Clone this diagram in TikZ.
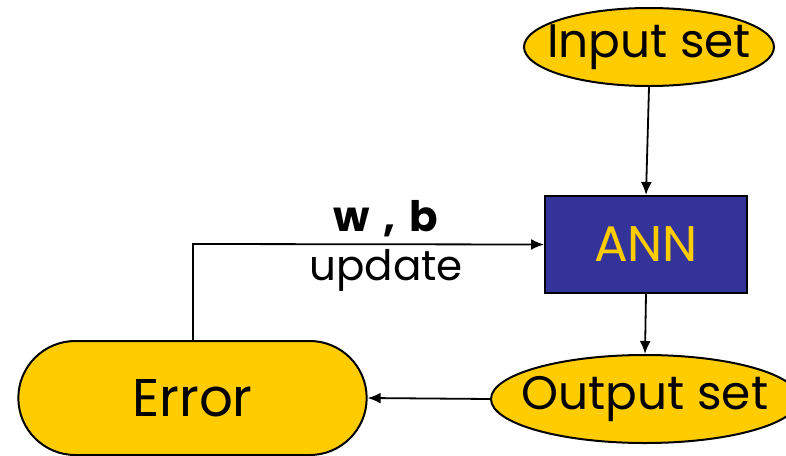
\documentclass[tikz,border=0pt]{standalone}
\usepackage{fontspec}
\setmainfont{Poppins}
\usetikzlibrary{shapes.geometric,shapes.misc,arrows.meta}
\definecolor{gold}{HTML}{FFCC00}
\definecolor{annblue}{HTML}{333399}
\tikzset{
  oval/.style={ellipse, draw=black, line width=2pt, fill=gold, inner sep=0pt, font=\fontsize{47}{50}\selectfont},
  conn/.style={line width=1.8pt, -{Latex[length=13pt,width=11pt]}},
}
\begin{document}
\begin{tikzpicture}[x=1pt,y=-1pt]
\useasboundingbox (0,0) rectangle (786,455);
\clip (0,0) rectangle (786,455);
\node[oval, minimum width=250pt, minimum height=78pt] (in) at (649,47) {\makebox[0pt]{Input set}};
\node[draw=black, line width=2pt, fill=annblue, text=gold, minimum width=202pt, minimum height=97pt, font=\fontsize{50}{54}\selectfont] (ann) at (646,244.5) {ANN};
\node[oval, minimum width=308pt, minimum height=88pt] (out) at (645,399) {\makebox[0pt]{Output set}};
\node[rounded rectangle, draw=black, line width=2pt, fill=gold, minimum width=355pt, minimum height=114pt, font=\fontsize{53}{56}\selectfont] (err) at (192.5,398) {Error};
\coordinate (c) at (193,244);
\draw[conn] (in.south) -- (ann.north);
\draw[conn] (ann.south) -- (out.north);
\draw[conn] (out.west) -- (err.east);
\draw[conn] (err.north -| c) -- (c) -- (ann.west) node[pos=0.55, above=3pt, font=\fontsize{42}{46}\selectfont\bfseries] (wb) {w\,\,,\,\,b} node[pos=0.55, below=1pt, font=\fontsize{42}{46}\selectfont] (up) {update};
\end{tikzpicture}
\end{document}
